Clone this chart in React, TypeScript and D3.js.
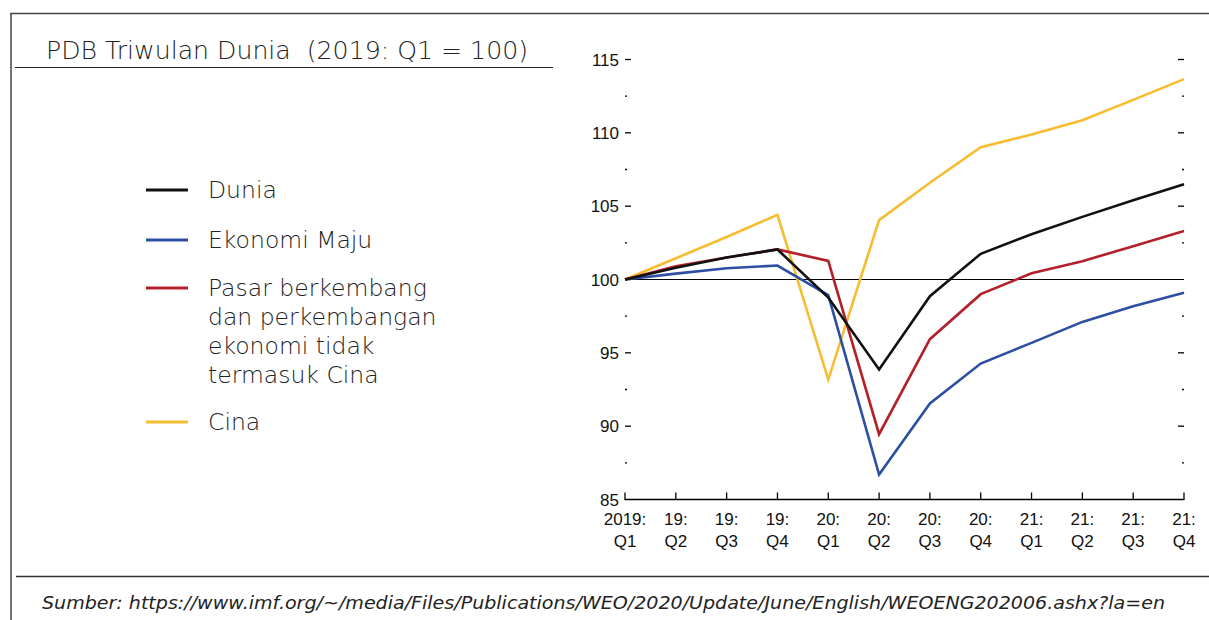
import React from "react";
import * as d3 from "d3";

const quarters = ["2019:|Q1", "19:|Q2", "19:|Q3", "19:|Q4", "20:|Q1", "20:|Q2", "20:|Q3", "20:|Q4", "21:|Q1", "21:|Q2", "21:|Q3", "21:|Q4"];

const dunia = [100, 100.8, 101.5, 102.05, 98.77, 93.86, 98.86, 101.75, 103.09, 104.27, 105.4, 106.5];
const ekonomiMaju = [100, 100.4, 100.77, 100.95, 98.93, 86.7, 91.55, 94.27, 95.68, 97.11, 98.18, 99.09];
const pasarBerkembang = [100, 100.9, 101.5, 102.05, 101.27, 89.45, 95.93, 99.0, 100.43, 101.25, 102.27, 103.3];
const cina = [100, 101.45, 102.9, 104.41, 93.18, 104.05, 106.6, 109.02, 109.89, 110.86, 112.25, 113.66];

const seriesNames = ["Dunia", "Ekonomi Maju", "Pasar berkembang|dan perkembangan|ekonomi tidak|termasuk Cina", "Cina"];
const seriesColors = ["#111111", "#2c4fa3", "#b3202a", "#f7bc30"];
const seriesData = [dunia, ekonomiMaju, pasarBerkembang, cina];
const drawOrder = [3, 1, 2, 0];

const majorTicks = [85, 90, 95, 100, 105, 110, 115];
const minorTicks = [87.5, 92.5, 97.5, 102.5, 107.5, 112.5];

const title = "PDB Triwulan Dunia  (2019: Q1 = 100)";
const source = "Sumber: https://www.imf.org/~/media/Files/Publications/WEO/2020/Update/June/English/WEOENG202006.ashx?la=en";

const sansFont = "'DejaVu Sans', sans-serif";
const axisFont = "'Liberation Sans Narrow', 'Liberation Sans', Arial, sans-serif";

export default function App() {
  const W = 1209;
  const H = 620;
  const x = d3.scalePoint<number>().domain(d3.range(quarters.length)).range([625, 1184]);
  const y = d3.scaleLinear().domain([85, 115]).range([499.5, 59.5]);
  const line = d3
    .line<number>()
    .x((_, i) => x(i) as number)
    .y((d) => y(d));

  const legendYs = [190, 240, 288, 422];

  return (
    <svg width={W} height={H} style={{ position: "absolute", left: 0, top: 0, background: "#fff" }}>
      {/* frame */}
      <line x1={11} y1={13} x2={11} y2={H} stroke="#444" strokeWidth={1.5} />
      <line x1={10.25} y1={13.5} x2={W} y2={13.5} stroke="#444" strokeWidth={1.5} />
      <line x1={16} y1={576.5} x2={W} y2={576.5} stroke="#333" strokeWidth={1.5} />

      {/* title */}
      <text x={46} y={59} fontFamily={sansFont} fontWeight={200} fontSize={25} fill="#222" textLength={482} lengthAdjust="spacingAndGlyphs" style={{ whiteSpace: "pre" }}>
        {title}
      </text>
      <line x1={15} y1={67.5} x2={553} y2={67.5} stroke="#222" strokeWidth={1.2} />

      {/* legend */}
      {seriesNames.map((name, i) => (
        <g key={name}>
          <line x1={146} x2={188} y1={legendYs[i]} y2={legendYs[i]} stroke={seriesColors[i]} strokeWidth={3} />
          {name.split("|").map((t, j) => (
            <text key={j} x={208} y={legendYs[i] + 8 + j * 29} fontFamily={sansFont} fontWeight={200} fontSize={23.5} fill="#222">
              {t}
            </text>
          ))}
        </g>
      ))}

      {/* y ticks left */}
      {majorTicks.map((t) => (
        <g key={"l" + t}>
          {t !== 85 && <line x1={625} x2={631} y1={y(t)} y2={y(t)} stroke="#000" strokeWidth={1.3} />}
          <text x={619} y={y(t) + 6} textAnchor="end" fontFamily={axisFont} fontSize={17} fill="#111">
            {t}
          </text>
          {t !== 85 && t !== 100 && <line x1={1178} x2={1184} y1={y(t)} y2={y(t)} stroke="#000" strokeWidth={1.3} />}
        </g>
      ))}
      {minorTicks.map((t) => (
        <g key={"m" + t}>
          <line x1={625} x2={627} y1={y(t)} y2={y(t)} stroke="#000" strokeWidth={1.3} />
          <line x1={1182} x2={1184} y1={y(t)} y2={y(t)} stroke="#000" strokeWidth={1.3} />
        </g>
      ))}

      {/* 100 baseline */}
      <line x1={625} x2={1184} y1={y(100)} y2={y(100)} stroke="#000" strokeWidth={1} />

      {/* x axis */}
      <line x1={624.5} x2={1184.5} y1={y(85)} y2={y(85)} stroke="#000" strokeWidth={1.5} />
      {quarters.map((q, i) => (
        <g key={q + i}>
          <line x1={x(i)} x2={x(i)} y1={y(85)} y2={y(85) - 7} stroke="#000" strokeWidth={1.3} />
          {q.split("|").map((t, j) => (
            <text key={j} x={x(i)} y={525 + j * 22} textAnchor="middle" fontFamily={axisFont} fontSize={17} fill="#111">
              {t}
            </text>
          ))}
        </g>
      ))}

      {/* series */}
      {drawOrder.map((k) => (
        <path key={k} d={line(seriesData[k]) || ""} fill="none" stroke={seriesColors[k]} strokeWidth={2.6} strokeLinejoin="miter" />
      ))}

      {/* source */}
      <text x={42} y={609} fontFamily={sansFont} fontStyle="italic" fontWeight={200} fontSize={18} fill="#222" textLength={1123} lengthAdjust="spacingAndGlyphs">
        {source}
      </text>
    </svg>
  );
}
